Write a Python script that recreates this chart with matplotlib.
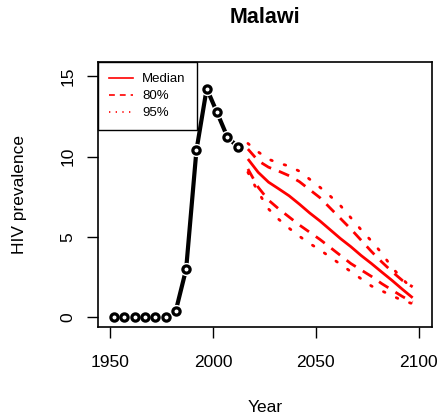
import numpy as np
import matplotlib
matplotlib.use("Agg")
import matplotlib.pyplot as plt
from matplotlib.lines import Line2D

plt.rcParams['font.family'] = ['Liberation Sans', 'DejaVu Sans']

#------------------------------------------------------------------------------
# Data
#------------------------------------------------------------------------------
obs_year = [1952, 1957, 1962, 1967, 1972, 1977, 1982, 1987, 1992, 1997, 2002, 2007, 2012]
obs_prev = [0.0, 0.0, 0.0, 0.0, 0.0, 0.0, 0.42, 3.0, 10.4, 14.25, 12.76, 11.24, 10.62]

proj_year = [2017, 2022, 2027, 2032, 2037, 2042, 2047, 2052, 2057, 2062, 2067, 2072, 2077, 2082, 2087, 2092, 2097]
median = [9.86, 9.03, 8.42, 8.0, 7.57, 7.05, 6.5, 6.0, 5.45, 4.9, 4.4, 3.85, 3.35, 2.82, 2.3, 1.75, 1.22]
up80 = [10.48, 9.75, 9.35, 9.1, 8.82, 8.45, 7.95, 7.45, 6.8, 6.15, 5.5, 4.8, 4.1, 3.45, 2.85, 2.3, 1.9]
lo80 = [9.24, 8.1, 7.3, 6.75, 6.25, 5.75, 5.3, 4.85, 4.35, 3.85, 3.35, 2.95, 2.55, 2.1, 1.7, 1.3, 0.95]
up95 = [10.83, 10.3, 9.85, 9.6, 9.42, 9.1, 8.6, 8.1, 7.55, 6.95, 6.2, 5.45, 4.75, 4.0, 3.1, 2.4, 1.75]
lo95 = [9.03, 7.8, 6.75, 6.1, 5.55, 5.05, 4.6, 4.2, 3.75, 3.3, 2.85, 2.4, 1.95, 1.65, 1.35, 1.05, 0.85]

legend_labels = ['Median', '80%', '95%']

#------------------------------------------------------------------------------
# Figure
#------------------------------------------------------------------------------
fig = plt.figure(figsize=(4.46, 4.2), dpi=100)
ax = fig.add_axes([98/446, 1 - 327/420, (432 - 98)/446, (327 - 62)/420])

red = '#ff0000'
dash80 = (0, (4, 3))
dot95 = (0, (0.6, 4.5))
ax.plot(proj_year, median, color=red, lw=2.0, solid_capstyle='butt')
ax.plot(proj_year, up80, color=red, lw=2.0, ls=dash80)
ax.plot(proj_year, lo80, color=red, lw=2.0, ls=dash80)
ax.plot(proj_year, up95, color=red, lw=2.0, ls=dot95, dash_capstyle='round')
ax.plot(proj_year, lo95, color=red, lw=2.0, ls=dot95, dash_capstyle='round')

# R type="b": line with gaps around the points
ax.plot(obs_year, obs_prev, color='black', lw=3.0, zorder=3)
ax.plot(obs_year, obs_prev, ls='none', marker='o', ms=9.5, mfc='white', mec='white', mew=0, zorder=4)
ax.plot(obs_year, obs_prev, ls='none', marker='o', ms=5.2, mfc='white', mec='black', mew=2.3, zorder=5)

ax.set_xlim(1944.2, 2106.4)
ax.set_ylim(-0.6, 15.9)
ax.set_xticks([1950, 2000, 2050, 2100])
ax.set_yticks([0, 5, 10, 15])
ax.tick_params(axis='both', direction='out', length=8, width=1, labelsize=12.5, colors='black')
ax.tick_params(axis='x', pad=12)
ax.tick_params(axis='y', pad=8)
for lab in ax.get_yticklabels():
    lab.set_rotation(90)
    lab.set_va('center')
for sp in ax.spines.values():
    sp.set_linewidth(1.2)

ax.set_xlabel('Year', fontsize=12.5, labelpad=22)
ax.set_ylabel('HIV prevalence', fontsize=12.5, labelpad=24)
ax.set_title('Malawi', fontsize=15.5, fontweight='bold', pad=28)

# legend uses thin lines, like R's default lwd=1
handles = [Line2D([], [], color=red, lw=1.2),
           Line2D([], [], color=red, lw=1.2, ls=(0, (3.5, 3))),
           Line2D([], [], color=red, lw=1.2, ls=(0, (0.8, 3.2)))]
leg = ax.legend(handles, legend_labels, loc='upper left', fontsize=9.5, frameon=True,
                fancybox=False, framealpha=1, borderaxespad=0, handlelength=1.8,
                handletextpad=0.7, borderpad=0.85, labelspacing=0.35)
leg.get_frame().set_edgecolor('black')
leg.get_frame().set_linewidth(1.0)

fig.savefig('out.png', dpi=100)
